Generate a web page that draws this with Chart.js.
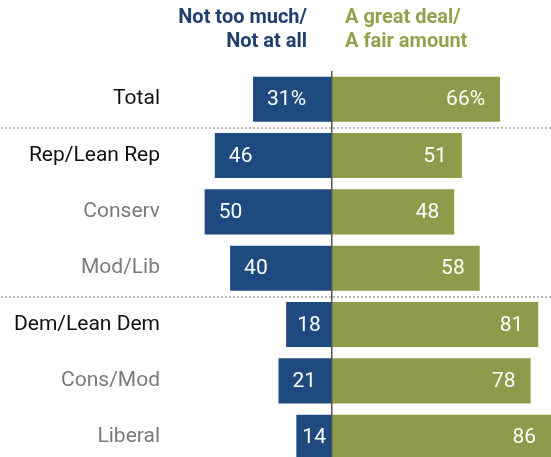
<!DOCTYPE html>
<html>
<head>
<meta charset="utf-8">
<script src="https://cdn.jsdelivr.net/npm/chart.js@4/dist/chart.umd.min.js"></script>
<style>
  html,body{margin:0;padding:0;background:#fff;overflow:hidden;}
  #wrap{position:relative;width:551px;height:480px;}
  canvas{display:block;}
  .hdr{position:absolute;top:4px;font:bold 20px "Roboto",sans-serif;line-height:24px;}
  #hdrLeft{right:244px;text-align:right;color:#1f3f6e;}
  #hdrRight{left:345px;text-align:left;color:#94a04e;}
</style>
</head>
<body>
<div id="wrap">
  <canvas id="chart" width="551" height="480"></canvas>
  <div class="hdr" id="hdrLeft">Not too much/<br>Not at all</div>
  <div class="hdr" id="hdrRight">A great deal/<br>A fair amount</div>
</div>
<script>
// categories and values (percent)
const groups = ['Total','Rep/Lean Rep','Conserv','Mod/Lib','Dem/Lean Dem','Cons/Mod','Liberal'];
const notMuch = [31,46,50,40,18,21,14];
const greatDeal = [66,51,48,58,81,78,86];
const mainGroups = ['Total','Rep/Lean Rep','Dem/Lean Dem'];
const separatorsAfter = [0,3]; // dotted line below these rows

const BLUE = '#1e4a80';
const GREEN = '#8f9b4a';

// labels inside bars + dotted separators + zero line
const overlay = {
  id:'overlay',
  afterDatasetsDraw(chart){
    const {ctx, chartArea, scales:{x,y}} = chart;
    ctx.save();
    // dotted separators across full width
    ctx.fillStyle = '#b8b8b8';
    separatorsAfter.forEach(i=>{
      const yy = Math.round((y.getPixelForValue(i)+y.getPixelForValue(i+1))/2);
      for(let xx=1; xx<chart.width; xx+=4) ctx.fillRect(xx, yy, 2, 2);
    });
    // zero line
    const x0 = Math.round(x.getPixelForValue(0));
    ctx.fillStyle = '#55564a';
    ctx.fillRect(x0-1, chartArea.top, 1.5, chart.height-chartArea.top);
    // value labels
    ctx.font = '21px "Roboto", sans-serif';
    ctx.fillStyle = '#fff';
    ctx.textBaseline = 'middle';
    const m0 = chart.getDatasetMeta(0), m1 = chart.getDatasetMeta(1);
    groups.forEach((g,i)=>{
      const suffix = i===0 ? '%' : '';
      const t1 = notMuch[i] + suffix;
      const b = m0.data[i];
      const w = x0 - b.x;
      const tw = ctx.measureText(t1).width;
      const pad = Math.min(14, Math.max(3,(w-tw)/2));
      ctx.textAlign = 'left';
      ctx.fillText(t1, b.x + pad, b.y+1);
      const t2 = greatDeal[i] + suffix;
      const b2 = m1.data[i];
      ctx.textAlign = 'right';
      ctx.fillText(t2, b2.x - 15, b2.y+1);
    });
    ctx.restore();
  }
};

new Chart(document.getElementById('chart'), {
  type:'bar',
  data:{
    labels: groups,
    datasets:[
      {label:'Not too much/Not at all', data: notMuch.map(v=>-v), backgroundColor: BLUE, barPercentage:0.8, categoryPercentage:1},
      {label:'A great deal/A fair amount', data: greatDeal, backgroundColor: GREEN, barPercentage:0.8, categoryPercentage:1}
    ]
  },
  options:{
    indexAxis:'y',
    responsive:false,
    animation:false,
    layout:{padding:{top:71,right:0,bottom:0,left:0}},
    plugins:{legend:{display:false},tooltip:{enabled:false}},
    scales:{
      x:{stacked:true, min:-63.6, max:86, display:false},
      y:{
        stacked:true,
        grid:{display:false},
        border:{display:false},
        afterFit:s=>{ s.width = 170; },
        ticks:{
          padding:2,
          font:{family:'"Roboto", sans-serif', size:21},
          color: c => mainGroups.includes(groups[c.index]) ? '#111' : '#7a7a7a'
        }
      }
    }
  },
  plugins:[overlay]
});
</script>
</body>
</html>
